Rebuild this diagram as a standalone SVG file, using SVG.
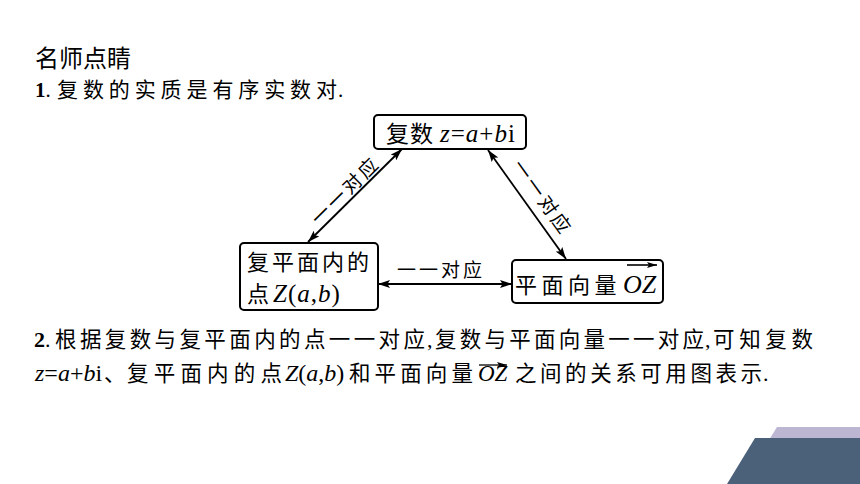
<svg xmlns="http://www.w3.org/2000/svg" width="860" height="484" viewBox="0 0 860 484">
  <style>
    .body { font-family: "Liberation Serif", "Noto Sans CJK SC", serif; fill: #000; }
    .cjk { font-family: "Noto Sans CJK SC", sans-serif; fill: #000; }
    .it { font-style: italic; }
    .box { fill: #fff; stroke: #000; stroke-width: 2; }
    .conn { stroke: #000; stroke-width: 1.8; fill: none; }
    .lbl { font-family: "Noto Sans CJK SC", sans-serif; font-size: 19px; letter-spacing: 3px; fill: #000; }
  </style>
  <defs>
    <marker id="ah" viewBox="0 0 12 8" refX="12" refY="4" markerWidth="12" markerHeight="8" markerUnits="userSpaceOnUse" orient="auto-start-reverse">
      <path d="M0,0 L12,4 L0,8 L2.5,4 z" fill="#000"/>
    </marker>
    <marker id="ahs" viewBox="0 0 10 6" refX="10" refY="3" markerWidth="10" markerHeight="6" markerUnits="userSpaceOnUse" orient="auto">
      <path d="M0,0 L10,3 L0,6 L2,3 z" fill="#000"/>
    </marker>
  </defs>
  <rect width="860" height="484" fill="#fff"/>

  <!-- header text -->
  <text class="cjk" x="35" y="67" font-size="24">名师点睛</text>
  <text class="body" x="35" y="97" font-size="21"><tspan font-weight="bold">1</tspan>.</text>
  <text class="cjk" x="57" y="97" font-size="21" textLength="280" lengthAdjust="spacing">复数的实质是有序实数对</text>
  <text class="body" x="338" y="97" font-size="21">.</text>

  <!-- connectors -->
  <g id="connectors">
    <line class="conn" x1="308" y1="242" x2="402" y2="149" marker-start="url(#ah)" marker-end="url(#ah)"/>
    <line class="conn" x1="488" y1="150" x2="566" y2="259" marker-start="url(#ah)" marker-end="url(#ah)"/>
    <line class="conn" x1="378" y1="284" x2="512" y2="284" marker-start="url(#ah)" marker-end="url(#ah)"/>
    <text class="lbl" transform="translate(345,192) rotate(-44.7)" x="1.5" y="6" text-anchor="middle">一一对应</text>
    <text class="lbl" transform="translate(541,197) rotate(54.4)" x="1.5" y="6" text-anchor="middle">一一对应</text>
    <text class="lbl" x="397" y="277">一一对应</text>
  </g>

  <!-- nodes -->
  <g id="node-complex">
    <rect class="box" x="374" y="115" width="152" height="34" rx="4"/>
    <text class="body" x="386" y="142" font-size="25" letter-spacing="1"><tspan class="cjk" font-size="23" letter-spacing="1">复数</tspan><tspan x="440" class="it">z</tspan>=<tspan class="it">a</tspan>+<tspan class="it">b</tspan>i</text>
  </g>

  <g id="node-point">
    <rect class="box" x="240" y="243" width="138" height="67" rx="4"/>
    <text class="cjk" x="247" y="270" font-size="22" letter-spacing="3">复平面内的</text>
    <text class="body" x="247" y="302" font-size="25" letter-spacing="1"><tspan class="cjk" font-size="22">点</tspan><tspan x="273" class="it">Z</tspan>(<tspan class="it">a</tspan>,<tspan class="it">b</tspan>)</text>
  </g>

  <g id="node-vector">
    <rect class="box" x="512" y="260" width="151" height="43" rx="4"/>
    <text class="cjk" x="515" y="293" font-size="22" letter-spacing="4.5">平面向量</text>
    <text class="body it" x="623" y="293" font-size="26">OZ</text>
    <line x1="627" y1="265" x2="657" y2="265" stroke="#000" stroke-width="1.6" marker-end="url(#ahs)"/>
  </g>

  <!-- paragraph 2, line 1 -->
  <text class="body" x="34" y="347" font-size="22"><tspan font-weight="bold">2</tspan>.</text>
  <text class="cjk" x="55" y="347" font-size="21.5" textLength="370" lengthAdjust="spacing">根据复数与复平面内的点一一对应</text>
  <text class="body" x="427" y="347" font-size="22">,</text>
  <text class="cjk" x="435" y="347" font-size="21.5" textLength="269" lengthAdjust="spacing">复数与平面向量一一对应</text>
  <text class="body" x="705" y="347" font-size="22">,</text>
  <text class="cjk" x="713" y="347" font-size="21.5" textLength="100" lengthAdjust="spacing">可知复数</text>

  <!-- paragraph 2, line 2 -->
  <text class="body" x="35" y="381" font-size="24"><tspan class="it">z</tspan>=<tspan class="it">a</tspan>+<tspan class="it">b</tspan>i</text>
  <text class="cjk" x="104" y="381" font-size="21.5">、</text>
  <text class="cjk" x="127" y="381" font-size="21.5" textLength="155" lengthAdjust="spacing">复平面内的点</text>
  <text class="body" x="285" y="381" font-size="24"><tspan class="it">Z</tspan>(<tspan class="it">a</tspan>,<tspan class="it">b</tspan>)</text>
  <text class="cjk" x="349" y="381" font-size="21.5" textLength="124" lengthAdjust="spacing">和平面向量</text>
  <text class="body it" x="478" y="381" font-size="23">OZ</text>
  <line x1="479" y1="365" x2="507" y2="365" stroke="#000" stroke-width="1.3" marker-end="url(#ahs)"/>
  <text class="cjk" x="515" y="381" font-size="21.5" textLength="247" lengthAdjust="spacing">之间的关系可用图表示</text>
  <text class="body" x="763" y="381" font-size="22">.</text>

  <!-- decoration -->
  <polygon points="777,427 860,427 860,440 769,440" fill="#bcb6d2"/>
  <polygon points="755,438 860,438 860,484 727,484" fill="#4b6079"/>
</svg>
